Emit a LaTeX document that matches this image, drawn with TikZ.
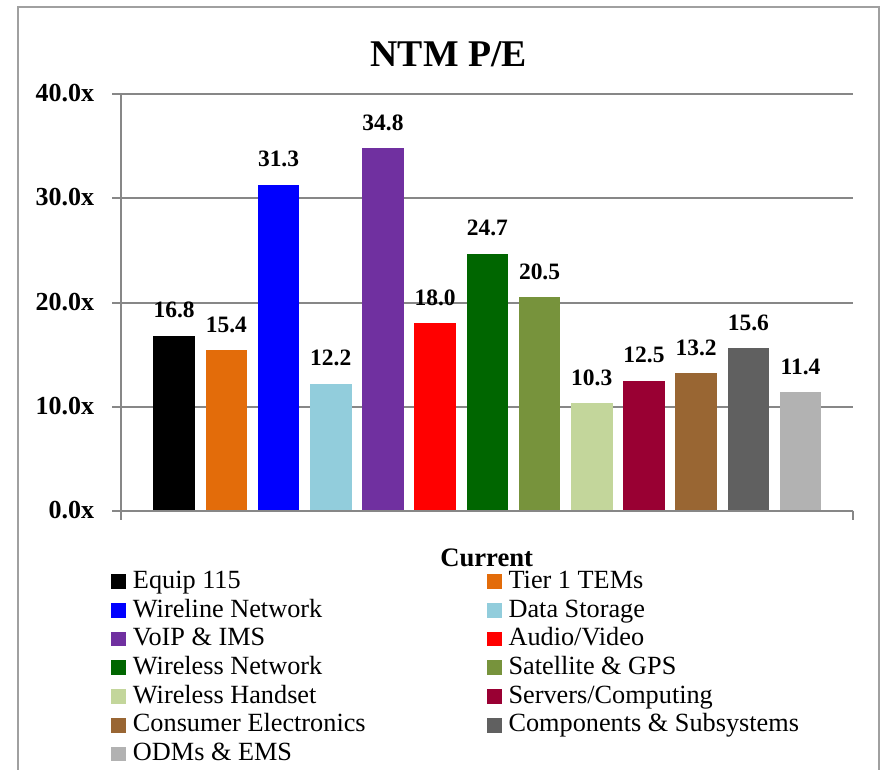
\documentclass[tikz,border=0pt]{standalone}
\usepackage{fontspec}
\setmainfont{Liberation Serif}
\definecolor{c1}{HTML}{000000}
\definecolor{c2}{HTML}{E36C0A}
\definecolor{c3}{HTML}{0000FF}
\definecolor{c4}{HTML}{92CDDC}
\definecolor{c5}{HTML}{7030A0}
\definecolor{c6}{HTML}{FF0000}
\definecolor{c7}{HTML}{006600}
\definecolor{c8}{HTML}{77933C}
\definecolor{c9}{HTML}{C3D69B}
\definecolor{c10}{HTML}{990033}
\definecolor{c11}{HTML}{996633}
\definecolor{c12}{HTML}{606060}
\definecolor{c13}{HTML}{B2B2B2}
\definecolor{gridc}{HTML}{878787}
\definecolor{framec}{HTML}{A0A0A0}
\begin{document}
\begin{tikzpicture}[x=0.75pt,y=-0.75pt,
  gridline/.style={draw=gridc,line width=1.5pt},
  frameline/.style={draw=framec,line width=1.5pt},
  titletext/.style={font=\bfseries\fontsize{28.3pt}{32pt}\selectfont,anchor=base,inner sep=0pt},
  axislbl/.style={font=\bfseries\fontsize{19.5pt}{22pt}\selectfont,anchor=base east,inner sep=0pt},
  datalbl/.style={font=\bfseries\fontsize{17.6pt}{20pt}\selectfont,anchor=base,inner sep=0pt},
  legtext/.style={font=\fontsize{19.7pt}{22pt}\selectfont,anchor=base west,inner sep=0pt},
  legtitle/.style={font=\bfseries\fontsize{20pt}{22pt}\selectfont,anchor=base west,inner sep=0pt},
  legsq/.style={rectangle,minimum size=11pt,inner sep=0pt,draw=none}]
\useasboundingbox (0,0) rectangle (880,769);
% frame
\draw[frameline] (17.7,770) -- (17.7,6.7) -- (879,6.7) -- (879,770);
% title
\node[titletext] (title) at (448.7,66.7) {NTM P/E};
% gridlines and axis labels
\foreach \v/\yy in {40/94.3,30/198.4,20/302.5,10/406.6,0/510.7}{
  \draw[gridline] (112,\yy) -- (853.3,\yy);
  \node[axislbl] (ax\v) at (94.3,\yy+7.5) {\v.0x};
}
% bars and data labels
\foreach \i/\v/\c in {1/16.8/c1,2/15.4/c2,3/31.3/c3,4/12.2/c4,5/34.8/c5,6/18.0/c6,7/24.7/c7,8/20.5/c8,9/10.3/c9,10/12.5/c10,11/13.2/c11,12/15.6/c12,13/11.4/c13}{
  \pgfmathsetmacro\xl{153.3+(\i-1)*52.2}
  \pgfmathsetmacro\yt{510.7-\v*10.41}
  \fill[\c] (\xl,\yt) rectangle (\xl+41.7,510.7);
  \node[datalbl] (v\i) at (\xl+20.85,\yt-18) {\v};
}
% axes
\draw[gridline] (121,94.3) -- (121,519.5);
\draw[gridline] (112,510.7) -- (853.3,510.7);
\draw[gridline] (853.3,510.7) -- (853.3,519.5);
% legend
\node[legtitle] (legt) at (440,566) {Current};
\foreach \r/\c/\t in {1/c1/{Equip 115},2/c3/{Wireline Network},3/c5/{VoIP \& IMS},4/c7/{Wireless Network},5/c9/{Wireless Handset},6/c11/{Consumer Electronics},7/c13/{ODMs \& EMS}}{
  \pgfmathsetmacro\yc{581.7+(\r-1)*28.7}
  \node[legsq,fill=\c] (lsqL\r) at (118.35,\yc) {};
  \node[legtext] (ltL\r) at (132.7,\yc+6.6) {\t};
}
\foreach \r/\c/\t in {1/c2/{Tier 1 TEMs},2/c4/{Data Storage},3/c6/{Audio/Video},4/c8/{Satellite \& GPS},5/c10/{Servers/Computing},6/c12/{Components \& Subsystems}}{
  \pgfmathsetmacro\yc{581.7+(\r-1)*28.7}
  \node[legsq,fill=\c] (lsqR\r) at (494.5,\yc) {};
  \node[legtext] (ltR\r) at (508.3,\yc+6.6) {\t};
}
\end{tikzpicture}
\end{document}
